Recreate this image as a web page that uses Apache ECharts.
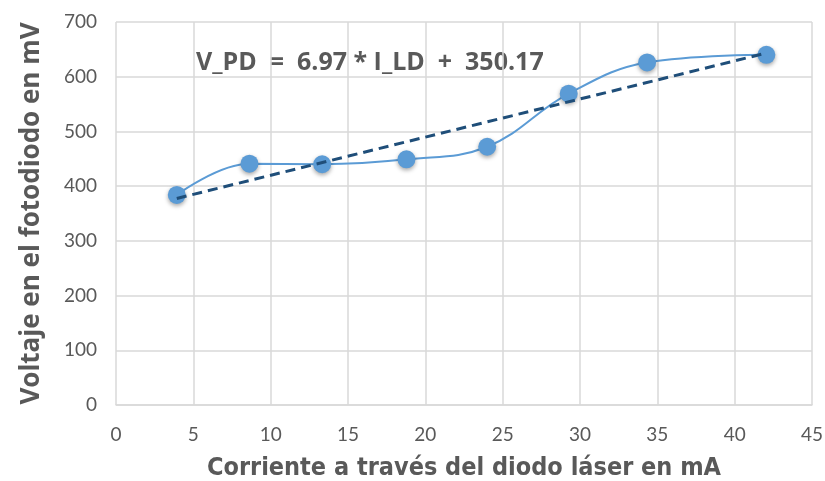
<!DOCTYPE html>
<html><head><meta charset="utf-8">
<script src="https://cdn.jsdelivr.net/npm/echarts@6/dist/echarts.min.js"></script>
<style>html,body{margin:0;padding:0;background:#fff}#c{width:825px;height:481px}</style>
</head><body><div id="c"></div>
<script>
const currentMA = [3.93, 8.63, 13.33, 18.78, 24.0, 29.27, 34.34, 42.05];
const voltageMV = [384, 441, 440, 449, 472, 569, 626, 640];
const trendSlope = 6.97;
const trendIntercept = 350.17;
const equationText = 'V_PD  =  6.97 * I_LD  +  350.17';
const xTitle = 'Corriente a través del diodo láser en mA';
const yTitle = 'Voltaje en el fotodiodo en mV';

const pts = currentMA.map((x, i) => [x, voltageMV[i]]);
const xa = currentMA[0], xb = currentMA[currentMA.length - 1];
const trend = [[xa, trendSlope * xa + trendIntercept], [xb, trendSlope * xb + trendIntercept]];

const narrow = '"DejaVu Sans Condensed", "Liberation Sans Narrow", Roboto, sans-serif';
const chart = echarts.init(document.getElementById('c'));
const gridColor = '#D9D9D9';
chart.setOption({
  animation: false,
  backgroundColor: '#fff',
  grid: { left: 116, right: 13, top: 22, bottom: 76, containLabel: false, outerBoundsMode: 'none' },
  xAxis: {
    type: 'value', min: 0, max: 45, interval: 5,
    axisLine: { show: true, lineStyle: { color: gridColor, width: 1.5 } },
    axisTick: { show: false },
    splitLine: { show: true, lineStyle: { color: gridColor, width: 1.5 } },
    axisLabel: { color: '#595959', fontSize: 19, fontFamily: 'Lato', margin: 20 },
    name: xTitle, nameLocation: 'middle', nameGap: 51,
    nameTextStyle: { color: '#595959', fontSize: 25, fontWeight: 'bold', fontFamily: narrow }
  },
  yAxis: {
    type: 'value', min: 0, max: 700, interval: 100,
    axisLine: { show: false }, axisTick: { show: false },
    splitLine: { show: true, lineStyle: { color: gridColor, width: 1.5 } },
    axisLabel: { color: '#595959', fontSize: 19, fontFamily: 'Lato', margin: 19 },
    name: yTitle, nameLocation: 'middle', nameGap: 71,
    nameTextStyle: { color: '#595959', fontSize: 26, fontWeight: 'bold', fontFamily: 'Open Sans' }
  },
  graphic: [{
    type: 'text', left: 196, top: 50,
    style: { text: equationText, fill: '#595959', fontSize: 25, fontWeight: 'bold', fontFamily: 'Open Sans' }
  }],
  series: [{
    type: 'line', data: pts, smooth: 0.4,
    lineStyle: { color: '#5B9BD5', width: 2 },
    symbol: 'circle', symbolSize: 18,
    itemStyle: { color: '#5B9BD5', shadowBlur: 4, shadowColor: 'rgba(0,0,0,0.35)', shadowOffsetY: 2 },
    z: 3
  }, {
    type: 'line', data: trend, symbol: 'none',
    lineStyle: { color: '#1F4E79', width: 3, type: [10, 6] },
    z: 4
  }]
});
</script></body></html>
